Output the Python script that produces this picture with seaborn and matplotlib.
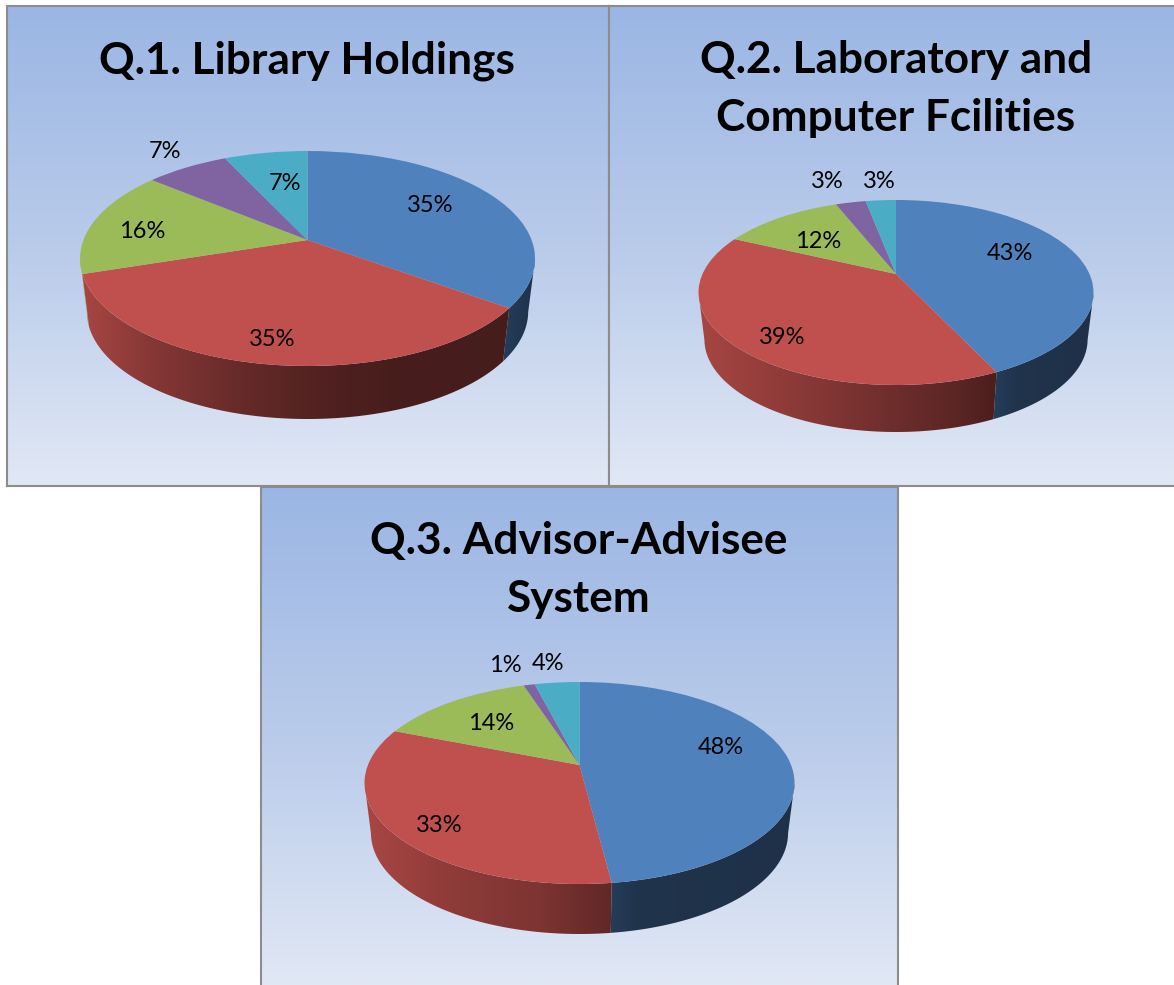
import numpy as np
import matplotlib
matplotlib.use("Agg")
import matplotlib.pyplot as plt
import seaborn as sns
from matplotlib.transforms import Transform
from matplotlib.patches import Polygon
from matplotlib.colors import LinearSegmentedColormap, to_rgb

# ---- data ----
titles = ["Q.1. Library Holdings",
          "Q.2. Laboratory and\nComputer Fcilities",
          "Q.3. Advisor-Advisee\nSystem"]
q1_values = [35, 35, 16, 7, 7]
q2_values = [43, 39, 12, 3, 3]
q3_values = [48, 33, 14, 1, 4]
all_values = [q1_values, q2_values, q3_values]

# ---- style / layout (pixels of the 1174x985 canvas) ----
W, H = 1174, 985
sns.set_theme(style="white")
plt.rcParams["font.family"] = ["Lato", "DejaVu Sans"]
palette = sns.color_palette(["#4F81BD", "#C0504D", "#9BBB59", "#8064A2", "#4BACC6"])
bg_cmap = LinearSegmentedColormap.from_list("bg", ["#9BB6E4", "#B9CBEA", "#E1E8F5"])

panels = [(7, 609, 6, 486), (609, 1174, 6, 486), (261, 898, 487, 985)]
hidden_spines = [(), ("right",), ("bottom",)]
# x centre, half width, apex y, top y, bottom y, wall depth
geoms = [(307.5, 227.5, 240, 151, 366, 53),
         (896, 197.5, 274, 200, 385, 47),
         (579.5, 215, 765, 682, 884, 50)]
title_xy = [(307, 61), (896, 89), (579, 570)]
label_xy = [[(430, 206), (272, 340), (142, 231), (165, 152), (285, 184)],
            [(1010, 254), (782, 338), (818, 242), (827, 182), (879, 182)],
            [(721, 748), (439, 826), (491, 723), (505, 666), (548, 664)]]
wall_shades = [([0, .15, .37, .55, .7, 1], [.88, .70, .52, .41, .37, .36]),
               ([0, .15, .32, .49, .66, .76, 1], [.87, .78, .68, .57, .47, .38, .36]),
               ([0, .18, .41, .57, 1], [.88, .75, .65, .50, .40])]
wall_shrink = 0.97


class Perspective(Transform):
    """Maps the unit circle of a pie on to a tilted disc, in canvas pixels."""
    input_dims = output_dims = 2
    has_inverse = False
    is_separable = False

    def __init__(self, x0, half_w, y0, top, bottom):
        super().__init__()
        up, down = y0 - top, bottom - y0
        self.c = (down - up) / (down + up)
        self.a = up * (1 + self.c)
        self.r = half_w * np.sqrt(1 - self.c ** 2)
        self.x0, self.y0 = x0, y0

    def transform_non_affine(self, values):
        values = np.asarray(values, float)
        d = 1 + self.c * values[:, 1]
        return np.column_stack([self.x0 + self.r * values[:, 0] / d,
                                self.y0 - self.a * values[:, 1] / d])


fig = plt.figure(figsize=(W / 100, H / 100), dpi=100, facecolor="white")

for title, values, (px0, px1, py0, py1), geom, txy, lxy, hide, (st, sf) in zip(
        titles, all_values, panels, geoms, title_xy, label_xy, hidden_spines, wall_shades):
    ax = fig.add_axes([px0 / W, 1 - py1 / H, (px1 - px0) / W, (py1 - py0) / H])
    x0, half_w, y0, top, bottom, depth = geom
    persp = Perspective(x0, half_w, y0, top, bottom)

    wedges, _ = ax.pie(values, colors=palette, startangle=90, counterclock=False,
                       wedgeprops={"linewidth": 0})
    for w in wedges:
        w.set_transform(persp + ax.transData)
        w.set_zorder(3)
        w.set_clip_on(False)

    ax.imshow(np.linspace(0, 1, 256)[:, None], cmap=bg_cmap, aspect="auto",
              extent=(px0, px1, py1, py0), zorder=0, vmin=0, vmax=1)

    # side wall: one clipped horizontal gradient per slice, from the same values
    edges = 90 - 360 * np.concatenate([[0], np.cumsum(values)]) / sum(values)
    grid_t = np.linspace(0, 1, 512)
    mid_y = (top + bottom) / 2
    # back slices first, so that the red front wall stays on top
    for i in [4, 3, 2, 0, 1]:
        base = palette[i]
        th = np.radians(np.linspace(edges[i], edges[i + 1], 300))
        upper = persp.transform_non_affine(np.column_stack([np.cos(th), np.sin(th)]))
        upper = upper[upper[:, 1] >= mid_y]  # only the part that faces the viewer
        if len(upper) < 2:
            continue
        lower = upper + [0, depth]
        lower[:, 0] = x0 + (lower[:, 0] - x0) * wall_shrink
        outline = Polygon(np.vstack([upper, lower[::-1]]), closed=True,
                          transform=ax.transData, facecolor="none", edgecolor="none")
        if i == 0:
            t_start = (lower[:, 0].min() - (x0 - half_w)) / (2 * half_w)
            shade = np.interp(grid_t, [t_start, t_start + .06, 1], [.47, .40, .38])
        else:
            shade = np.interp(grid_t, st, sf)
        rgb = np.outer(shade, to_rgb(base))[None, :, :]
        im = ax.imshow(rgb, aspect="auto", zorder=2,
                       extent=(x0 - half_w, x0 + half_w, bottom + depth + 5, y0 - 5))
        im.set_clip_path(outline)

    ax.set_aspect("auto")
    ax.set_xlim(px0, px1)
    ax.set_ylim(py1, py0)
    ax.set_xticks([])
    ax.set_yticks([])
    ax.set_frame_on(True)
    for name, s in ax.spines.items():
        s.set_color("#8C8C8C")
        s.set_linewidth(1.5)
        s.set_visible(name not in hide)

    ax.text(txy[0], txy[1], title, ha="center", va="center", fontsize=31.8,
            fontweight="bold", color="black", linespacing=1.55, zorder=5)
    for v, (lx, ly) in zip(values, lxy):
        ax.text(lx, ly, f"{v}%", ha="center", va="center", fontsize=17,
                color="black", zorder=5)

fig.savefig("out.png", dpi=100)
